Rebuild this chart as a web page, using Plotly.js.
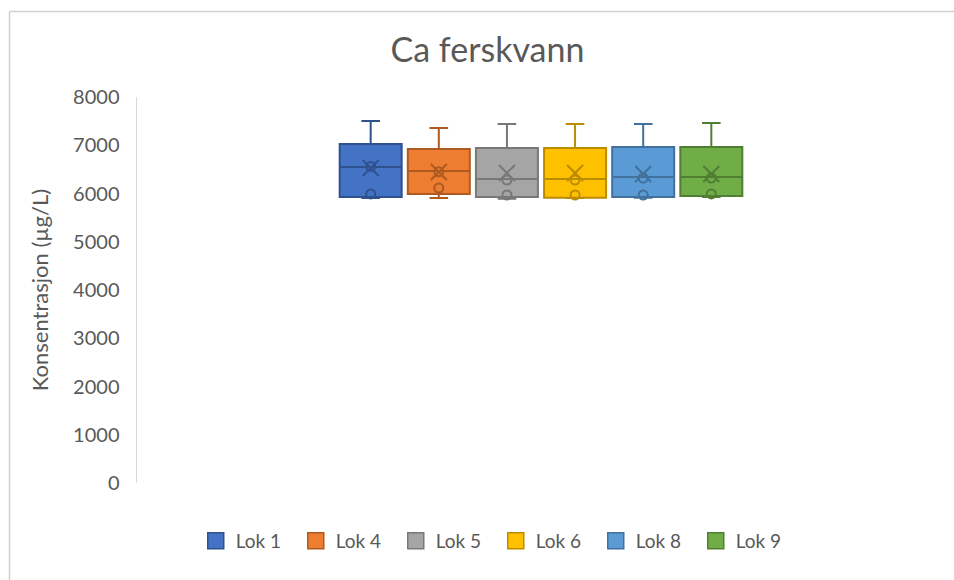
<!DOCTYPE html>
<html>
<head>
<meta charset="utf-8">
<script src="https://cdn.plot.ly/plotly-3.0.1.min.js"></script>
<style>html,body{margin:0;padding:0;background:#fff;}#chart{width:954px;height:580px;}</style>
</head>
<body>
<div id="chart"></div>
<script>
const locations = ["Lok 1", "Lok 4", "Lok 5", "Lok 6", "Lok 8", "Lok 9"];
const lowerWhisker = [5905, 5905, 5890, 5905, 5910, 5930];
const q1Values = [5927, 5990, 5927, 5910, 5927, 5948];
const medianValues = [6549, 6466, 6300, 6300, 6342, 6342];
const q3Values = [7026, 6922, 6943, 6943, 6963, 6963];
const upperWhisker = [7503, 7358, 7440, 7440, 7440, 7461];
const meanValues = [6528, 6446, 6425, 6425, 6404, 6404];
const innerPointsA = [6560, 6450, 6280, 6280, 6321, 6321];
const innerPointsB = [5990, 6114, 5969, 5969, 5969, 5990];

const fillColors = ["#4472C4", "#ED7D31", "#A5A5A5", "#FFC000", "#5B9BD5", "#70AD47"];
const lineColors = ["#2F528F", "#AE5A21", "#787878", "#BC8C00", "#41719C", "#507E32"];

const traces = [];
locations.forEach((name, i) => {
  traces.push({
    type: "box",
    name: name,
    x: [i],
    q1: [q1Values[i]],
    median: [medianValues[i]],
    q3: [q3Values[i]],
    lowerfence: [lowerWhisker[i]],
    upperfence: [upperWhisker[i]],
    width: 0.91,
    whiskerwidth: 0.3,
    fillcolor: fillColors[i],
    line: {color: lineColors[i], width: 2},
    boxpoints: false,
    hoverinfo: "skip",
    legendgroup: name,
    showlegend: false
  });
  traces.push({
    type: "scatter",
    mode: "markers",
    x: [i],
    y: [meanValues[i]],
    marker: {symbol: "x-thin-open", size: 16, line: {color: lineColors[i], width: 2}, color: lineColors[i]},
    hoverinfo: "skip",
    legendgroup: name,
    showlegend: false
  });
  traces.push({
    type: "scatter",
    mode: "markers",
    x: [i, i],
    y: [innerPointsA[i], innerPointsB[i]],
    marker: {symbol: "circle-open", size: 9, line: {color: lineColors[i], width: 2}, color: lineColors[i]},
    hoverinfo: "skip",
    legendgroup: name,
    showlegend: false
  });
});
// legend entries (square swatches like the original)
locations.forEach((name, i) => {
  traces.push({
    type: "scatter",
    mode: "markers",
    name: name,
    x: [null],
    y: [null],
    marker: {symbol: "square", size: 16, color: fillColors[i], line: {color: lineColors[i], width: 1.5}},
    legendgroup: name,
    showlegend: true,
    hoverinfo: "skip"
  });
});

const FONT = "Lato, 'Open Sans', sans-serif";
const layout = {
  width: 954,
  height: 580,
  margin: {l: 137, r: 9, t: 97, b: 97},
  paper_bgcolor: "#ffffff",
  plot_bgcolor: "#ffffff",
  font: {family: FONT, color: "#595959", size: 19},
  title: {
    text: "Ca ferskvann",
    font: {size: 34, color: "#595959", family: FONT},
    x: 0.511, xanchor: "center",
    y: 0.914, yanchor: "middle"
  },
  showlegend: true,
  legend: {
    orientation: "h",
    x: 0.444, xanchor: "center",
    y: -0.15, yanchor: "middle",
    font: {size: 19, color: "#595959", family: FONT},
    traceorder: "normal",
    itemwidth: 30,
    entrywidth: 55
  },
  xaxis: {
    range: [-3.43, 8.43],
    showticklabels: false,
    showgrid: false,
    zeroline: false,
    showline: false,
    ticks: "",
    fixedrange: true
  },
  yaxis: {
    range: [0, 8000],
    dtick: 1000,
    tick0: 0,
    showgrid: false,
    zeroline: false,
    showline: true,
    linecolor: "#d9d9d9",
    linewidth: 1.5,
    ticks: "outside",
    ticklen: 12,
    tickcolor: "rgba(0,0,0,0)",
    tickfont: {size: 20, color: "#595959", family: FONT},
    title: {text: "Konsentrasjon (µg/L)", font: {size: 22, color: "#595959", family: FONT}, standoff: 18}
  },
  shapes: [
    {type: "line", xref: "paper", yref: "paper", x0: -0.1578, x1: 1.02, y0: 1.2215, y1: 1.2215, line: {color: "#d0d0d0", width: 1.5}},
    {type: "line", xref: "paper", yref: "paper", x0: -0.1578, x1: -0.1578, y0: 1.2215, y1: -0.26, line: {color: "#d0d0d0", width: 1.5}}
  ]
};

Plotly.newPlot("chart", traces, layout, {displayModeBar: false, staticPlot: true});
</script>
</body>
</html>
